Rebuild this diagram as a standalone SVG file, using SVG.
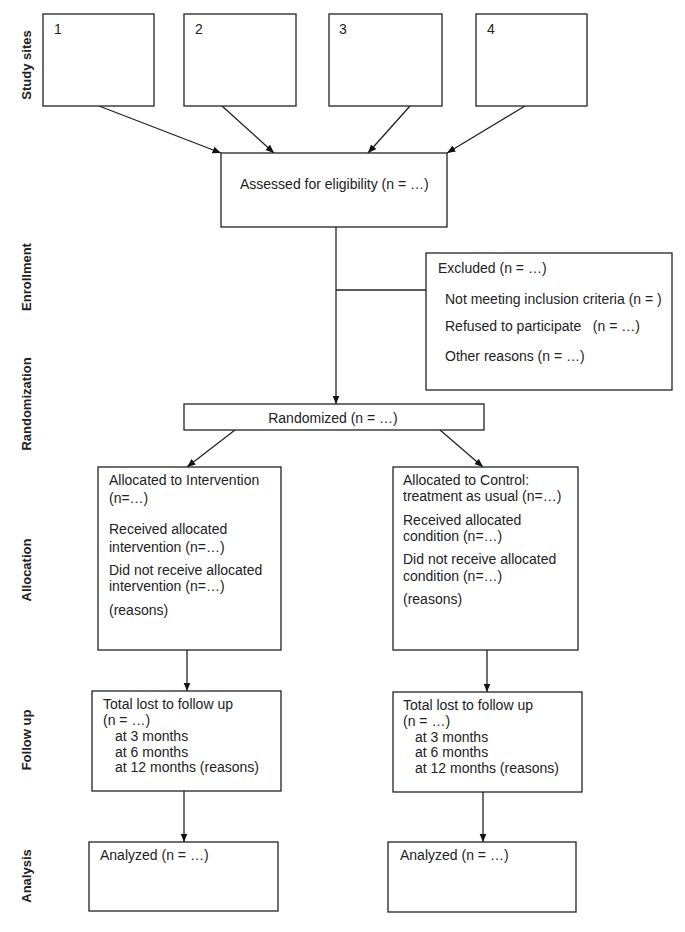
<svg xmlns="http://www.w3.org/2000/svg" width="685" height="932" viewBox="0 0 685 932">
<defs>
<marker id="ah" markerUnits="userSpaceOnUse" markerWidth="9" markerHeight="8" refX="8.5" refY="3.5" orient="auto">
<path d="M0,0 L8.5,3.5 L0,7 z" fill="#111"/>
</marker>
<style>
.box{fill:#fff;stroke:#222;stroke-width:1.3}
.t{font-family:"Liberation Sans",Arial,sans-serif;font-size:14px;fill:#222}
.lab{font-family:"Liberation Sans",Arial,sans-serif;font-size:13px;font-weight:bold;fill:#222;text-anchor:middle}
.c{fill:none;stroke:#222;stroke-width:1.3}
.a{marker-end:url(#ah)}
</style>
</defs>
<rect width="685" height="932" fill="#fff"/>
<g id="labels">
<text class="lab" transform="translate(31,65) rotate(-90)">Study sites</text>
<text class="lab" transform="translate(31,277) rotate(-90)">Enrollment</text>
<text class="lab" transform="translate(31,404) rotate(-90)">Randomization</text>
<text class="lab" transform="translate(31,570) rotate(-90)">Allocation</text>
<text class="lab" transform="translate(31,740) rotate(-90)">Follow up</text>
<text class="lab" transform="translate(31,876) rotate(-90)">Analysis</text>
</g>
<g id="connectors">
<line class="c a" x1="99" y1="106" x2="221" y2="153"/>
<line class="c a" x1="222" y1="106" x2="274" y2="153"/>
<line class="c a" x1="410" y1="106" x2="368" y2="153"/>
<line class="c a" x1="525" y1="106" x2="447" y2="153"/>
<line class="c a" x1="336" y1="227" x2="336" y2="404"/>
<line class="c" x1="336" y1="290" x2="426" y2="290"/>
<line class="c a" x1="235" y1="430" x2="187" y2="467"/>
<line class="c a" x1="440" y1="430" x2="483" y2="467"/>
<line class="c a" x1="187" y1="650" x2="187" y2="691"/>
<line class="c a" x1="487" y1="650" x2="487" y2="692"/>
<line class="c a" x1="184" y1="791" x2="184" y2="842"/>
<line class="c a" x1="483" y1="792" x2="483" y2="842"/>
</g>
<g id="site1"><rect class="box" x="43" y="14" width="111" height="92"/><text class="t" x="54" y="34">1</text></g>
<g id="site2"><rect class="box" x="184" y="14" width="112" height="92"/><text class="t" x="195" y="34">2</text></g>
<g id="site3"><rect class="box" x="329" y="14" width="113" height="92"/><text class="t" x="339" y="34">3</text></g>
<g id="site4"><rect class="box" x="476" y="14" width="111" height="92"/><text class="t" x="487" y="34">4</text></g>
<g id="assessed"><rect class="box" x="221" y="153" width="226" height="74"/><text class="t" x="240" y="189">Assessed for eligibility (n = …)</text></g>
<g id="excluded"><rect class="box" x="426" y="253" width="246" height="137"/>
<text class="t" x="438" y="273">Excluded (n = …)</text>
<text class="t" x="445" y="304">Not meeting inclusion criteria (n = )</text>
<text class="t" x="445" y="331" xml:space="preserve">Refused to participate   (n = …)</text>
<text class="t" x="445" y="361">Other reasons (n = …)</text>
</g>
<g id="randomized"><rect class="box" x="184" y="404" width="300" height="26"/><text class="t" x="333" y="423" text-anchor="middle">Randomized (n = …)</text></g>
<g id="alloc-int"><rect class="box" x="98" y="467" width="183" height="183"/>
<text class="t" x="109" y="485">Allocated to Intervention</text>
<text class="t" x="109" y="503">(n=…)</text>
<text class="t" x="109" y="534">Received allocated</text>
<text class="t" x="109" y="552">intervention (n=…)</text>
<text class="t" x="109" y="575">Did not receive allocated</text>
<text class="t" x="109" y="591">intervention (n=…)</text>
<text class="t" x="109" y="615">(reasons)</text>
</g>
<g id="alloc-ctrl"><rect class="box" x="393" y="467" width="185" height="183"/>
<text class="t" x="403" y="485">Allocated to Control:</text>
<text class="t" x="403" y="501">treatment as usual (n=…)</text>
<text class="t" x="403" y="525">Received allocated</text>
<text class="t" x="403" y="541">condition (n=…)</text>
<text class="t" x="403" y="564">Did not receive allocated</text>
<text class="t" x="403" y="581">condition (n=…)</text>
<text class="t" x="403" y="604">(reasons)</text>
</g>
<g id="fu-int"><rect class="box" x="92" y="691" width="189" height="100"/>
<text class="t" x="103" y="709">Total lost to follow up</text>
<text class="t" x="103" y="725">(n = …)</text>
<text class="t" x="115" y="741">at 3 months</text>
<text class="t" x="115" y="757">at 6 months</text>
<text class="t" x="115" y="772">at 12 months (reasons)</text>
</g>
<g id="fu-ctrl"><rect class="box" x="393" y="692" width="189" height="100"/>
<text class="t" x="403" y="710">Total lost to follow up</text>
<text class="t" x="403" y="726">(n = …)</text>
<text class="t" x="415" y="742">at 3 months</text>
<text class="t" x="415" y="757">at 6 months</text>
<text class="t" x="415" y="773">at 12 months (reasons)</text>
</g>
<g id="an-int"><rect class="box" x="89" y="842" width="189" height="69"/><text class="t" x="100" y="860">Analyzed (n = …)</text></g>
<g id="an-ctrl"><rect class="box" x="388" y="842" width="188" height="70"/><text class="t" x="400" y="860">Analyzed (n = …)</text></g>
</svg>
